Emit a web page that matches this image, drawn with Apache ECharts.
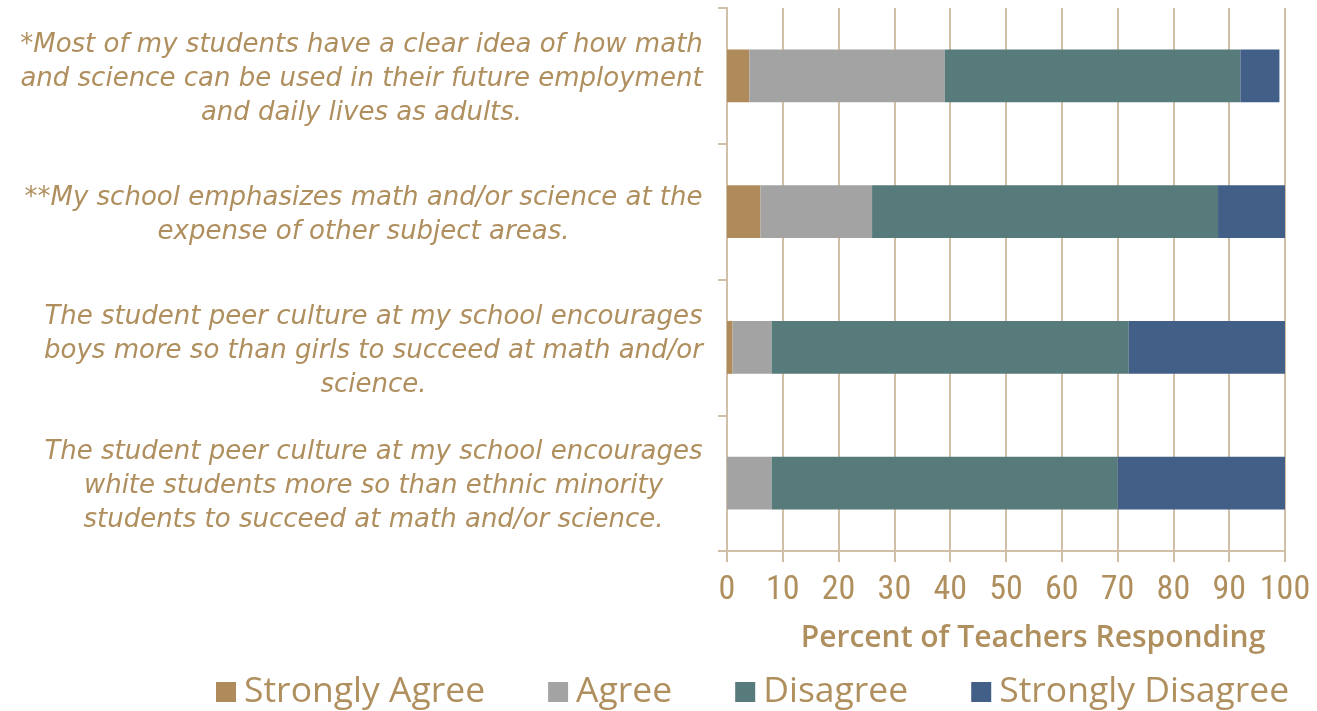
<!DOCTYPE html>
<html><head><meta charset="utf-8">
<script src="https://cdn.jsdelivr.net/npm/echarts@6/dist/echarts.min.js"></script>
<style>html,body{margin:0;padding:0;background:#fff}#c{width:1317px;height:711px}</style>
</head><body><div id="c"></div>
<script>
const categories = [
  "*Most of my students have a clear idea of how math\nand science can be used in their future employment\nand daily lives as adults.",
  "**My school emphasizes math and/or science at the\nexpense of other subject areas.",
  "The student peer culture at my school encourages\nboys more so than girls to succeed at math and/or\nscience.",
  "The student peer culture at my school encourages\nwhite students more so than ethnic minority\nstudents to succeed at math and/or science."
];
const seriesNames = ["Strongly Agree", "Agree", "Disagree", "Strongly Disagree"];
const stronglyAgree = [4, 6, 1, 0];
const agree = [35, 20, 7, 8];
const disagree = [53, 62, 64, 62];
const stronglyDisagree = [7, 12, 28, 30];
const xTicks = [0, 10, 20, 30, 40, 50, 60, 70, 80, 90, 100];

const colors = ["#AF8B5C", "#A3A3A3", "#577A7A", "#425F88"];
const gold = "#B08F5E";
const tan = "#D2BFA8";
const catFamily = "'DejaVu Sans'";
const catSize = 26;
const narrow = "'Liberation Sans Narrow', 'Roboto Condensed', 'Liberation Sans', sans-serif";

const cv = document.createElement('canvas').getContext('2d');
cv.font = "italic " + catSize + "px " + catFamily;
function blockWidth(s){ return Math.max(...s.split('\n').map(l => cv.measureText(l).width)); }
const widths = categories.map(blockWidth);

const chart = echarts.init(document.getElementById('c'));
const data = [stronglyAgree, agree, disagree, stronglyDisagree];
chart.setOption({
  animation: false,
  grid: { left: 727, right: 32, top: 8, bottom: 160 },
  legend: {
    left: 211, top: 669, itemWidth: 20, itemHeight: 20, itemGap: 63,
    icon: 'rect',
    textStyle: { color: gold, fontSize: 35.5, fontFamily: "'Open Sans'", padding: [0,0,0,3] },
    data: seriesNames
  },
  xAxis: {
    type: 'value', min: 0, max: 100, interval: 10,
    axisLine: { show: true, lineStyle: { color: tan, width: 2 } },
    axisTick: { show: true, length: 11, lineStyle: { color: tan, width: 2 } },
    splitLine: { show: true, lineStyle: { color: tan, width: 2 } },
    axisLabel: { color: gold, fontSize: 34, fontFamily: narrow, margin: 22, formatter: v => xTicks.includes(v) ? String(v) : '' },
    name: 'Percent of Teachers Responding', nameLocation: 'middle', nameGap: 72,
    nameTextStyle: { color: gold, fontSize: 30, fontWeight: 600, fontFamily: "'Open Sans'", padding: [0,0,0,54] }
  },
  yAxis: {
    type: 'category', inverse: true, data: categories,
    axisLine: { show: true, lineStyle: { color: tan, width: 2 } },
    axisTick: { show: true, length: 9, lineStyle: { color: tan, width: 2 } },
    axisLabel: {
      margin: 24, align: 'right', padding: [7, 0, 0, 0],
      formatter: (v, i) => v.split('\n').map(l => '{t' + i + '|' + l + '}').join('\n'),
      rich: Object.fromEntries(widths.map((w, i) => ['t' + i, { width: Math.ceil(w), align: 'center', color: gold, fontSize: catSize, fontStyle: 'italic', fontFamily: catFamily, lineHeight: 34 }]))
    }
  },
  series: seriesNames.map((n, k) => ({
    name: n, type: 'bar', stack: 'total', barWidth: '39%',
    itemStyle: { color: colors[k] },
    data: data[k]
  }))
});
</script></body></html>
